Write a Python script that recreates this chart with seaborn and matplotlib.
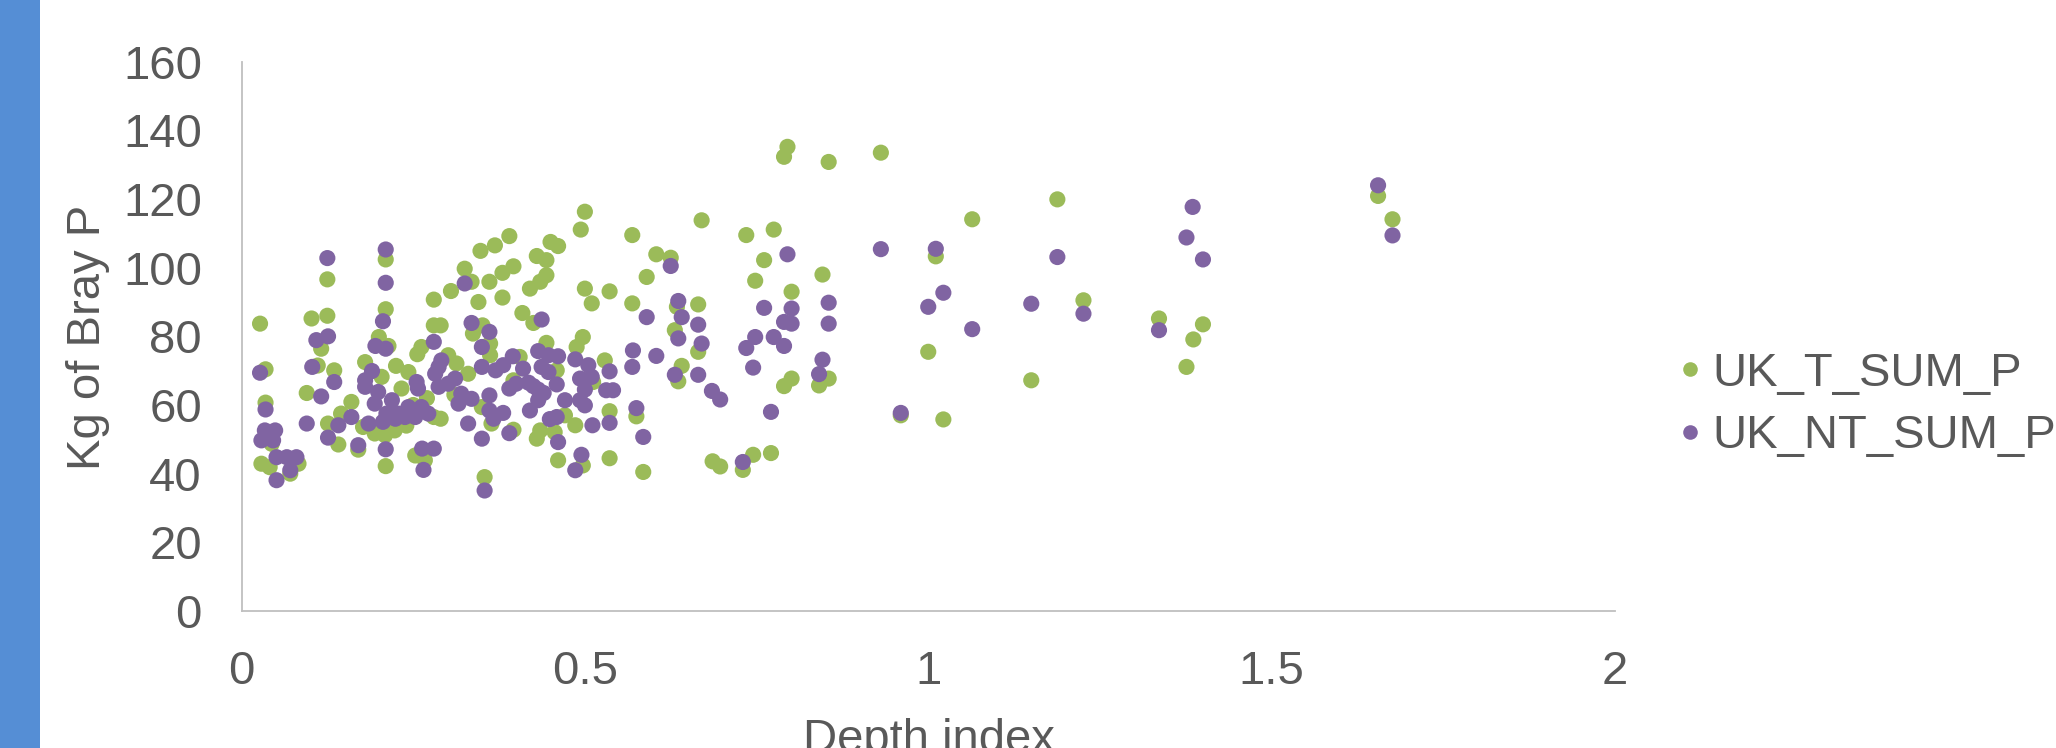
import matplotlib
matplotlib.use("Agg")
import matplotlib.pyplot as plt
from matplotlib.patches import Rectangle
from matplotlib.lines import Line2D
import seaborn as sns
import pandas as pd

# ---------------- data ----------------
t_x = [0.027, 0.035, 0.035, 0.044, 0.029, 0.041, 0.083, 0.071, 0.102, 0.125, 0.125, 0.116,
       0.111, 0.135, 0.095, 0.126, 0.141, 0.160, 0.145, 0.170, 0.210, 0.210, 0.200, 0.214,
       0.180, 0.225, 0.204, 0.194, 0.209, 0.223, 0.210, 0.233, 0.243, 0.256, 0.280, 0.280,
       0.290, 0.305, 0.325, 0.335, 0.348, 0.345, 0.337, 0.262, 0.301, 0.313, 0.330, 0.280,
       0.253, 0.267, 0.354, 0.177, 0.350, 0.220, 0.250, 0.270, 0.310, 0.240, 0.290,
       0.500, 0.494, 0.390, 0.569, 0.670, 0.369, 0.450, 0.461, 0.430, 0.444, 0.604, 0.625,
       0.396, 0.380, 0.444, 0.435, 0.361, 0.420, 0.590, 0.500, 0.510, 0.536, 0.380, 0.569,
       0.665, 0.409, 0.425, 0.634, 0.631, 0.351, 0.362, 0.362, 0.444, 0.497, 0.488, 0.529,
       0.665, 0.641, 0.636, 0.405, 0.459, 0.512, 0.396, 0.536, 0.575, 0.471, 0.364, 0.396,
       0.486, 0.430, 0.435, 0.456, 0.461, 0.497, 0.536, 0.585, 0.686, 0.697,
       0.795, 0.790, 0.855, 0.931, 1.064, 0.735, 0.775, 0.761, 0.748, 0.846, 0.801, 1.011,
       1.000, 0.801, 0.790, 0.855, 0.841, 0.745, 0.771, 0.730, 1.022, 0.960,
       1.188, 1.150, 1.226, 1.336, 1.400, 1.386, 1.376, 1.655, 1.676]
t_y = [83.7, 70.4, 60.7, 48.7, 42.9, 41.9, 42.9, 40.0, 85.2, 86.0, 96.6, 76.4,
       71.5, 70.1, 63.5, 54.6, 48.5, 60.9, 57.5, 47.0, 102.4, 87.9, 79.8, 77.2,
       72.5, 71.4, 68.2, 51.7, 51.2, 52.6, 42.2, 64.8, 69.6, 74.8, 90.7, 83.2,
       83.2, 93.2, 99.7, 95.9, 104.9, 90.0, 80.8, 76.9, 74.5, 72.1, 69.1, 56.5,
       45.3, 43.9, 39.0, 53.6, 59.4, 58.0, 60.0, 62.0, 63.0, 54.0, 56.0,
       116.3, 111.1, 109.2, 109.5, 113.8, 106.5, 107.5, 106.3, 103.4, 102.2, 103.9, 102.9,
       100.4, 98.5, 97.8, 95.9, 95.9, 93.9, 97.3, 93.9, 89.6, 93.1, 91.3, 89.6,
       89.3, 86.8, 83.9, 88.6, 81.8, 83.2, 77.9, 74.5, 78.1, 79.8, 76.9, 73.0,
       75.5, 71.4, 66.9, 74.0, 70.1, 66.7, 67.2, 58.2, 56.7, 57.0, 54.6, 52.8,
       54.1, 50.2, 52.6, 52.1, 43.9, 42.4, 44.5, 40.5, 43.6, 42.1,
       135.2, 132.3, 130.8, 133.5, 114.1, 109.5, 111.1, 102.2, 96.2, 98.0, 93.0, 103.3,
       75.5, 67.7, 65.5, 67.7, 65.7, 45.5, 46.0, 41.1, 55.8, 57.0,
       119.9, 67.2, 90.5, 85.2, 83.5, 79.1, 71.1, 120.9, 114.1]

nt_x = [0.027, 0.035, 0.034, 0.049, 0.029, 0.046, 0.051, 0.066, 0.080, 0.071, 0.051, 0.125,
        0.109, 0.126, 0.103, 0.135, 0.116, 0.095, 0.126, 0.141, 0.160, 0.170, 0.210, 0.210,
        0.206, 0.195, 0.210, 0.190, 0.180, 0.180, 0.199, 0.219, 0.194, 0.211, 0.228, 0.185,
        0.206, 0.224, 0.210, 0.255, 0.257, 0.291, 0.287, 0.282, 0.311, 0.287, 0.301, 0.320,
        0.316, 0.243, 0.262, 0.253, 0.272, 0.238, 0.330, 0.335, 0.263, 0.280, 0.265, 0.350,
        0.350, 0.350, 0.354, 0.280, 0.335, 0.325,
        0.625, 0.636, 0.641, 0.590, 0.665, 0.670, 0.636, 0.437, 0.361, 0.570, 0.569, 0.604,
        0.395, 0.432, 0.447, 0.461, 0.486, 0.505, 0.370, 0.381, 0.410, 0.437, 0.447, 0.536,
        0.631, 0.665, 0.493, 0.510, 0.459, 0.425, 0.440, 0.432, 0.418, 0.400, 0.390, 0.500,
        0.531, 0.541, 0.493, 0.500, 0.471, 0.432, 0.420, 0.361, 0.361, 0.367, 0.381, 0.575,
        0.685, 0.697, 0.449, 0.459, 0.511, 0.536, 0.390, 0.461, 0.585, 0.495, 0.486,
        0.795, 0.931, 1.011, 1.022, 1.000, 1.064, 0.761, 0.801, 0.855, 0.855, 0.790, 0.801,
        0.748, 0.735, 0.775, 0.790, 0.745, 0.846, 0.841, 0.771, 0.960, 0.730,
        1.188, 1.150, 1.226, 1.336, 1.385, 1.376, 1.400, 1.655, 1.676]
nt_y = [69.4, 58.7, 52.6, 52.6, 49.7, 49.7, 44.8, 44.8, 44.8, 41.0, 38.1, 102.8,
        78.9, 80.0, 71.1, 66.7, 62.5, 54.6, 50.5, 54.1, 56.5, 48.3, 105.3, 95.6,
        84.4, 77.2, 76.4, 69.9, 67.2, 65.3, 63.8, 61.4, 60.4, 57.5, 57.5, 54.6,
        55.1, 56.0, 47.1, 66.7, 64.8, 73.0, 71.1, 69.1, 67.7, 65.3, 66.2, 63.3,
        60.4, 59.4, 59.4, 56.5, 57.5, 56.5, 54.6, 61.8, 47.3, 47.3, 41.1, 71.1,
        76.9, 50.2, 35.1, 78.4, 83.9, 95.4,
        100.5, 90.3, 85.6, 85.6, 83.4, 77.9, 79.4, 84.9, 81.3, 75.9, 71.1, 74.3,
        74.2, 75.7, 74.5, 74.2, 73.3, 71.6, 70.1, 71.6, 70.6, 71.1, 69.6, 69.8,
        68.8, 68.8, 67.7, 68.2, 66.0, 65.5, 63.5, 64.5, 66.5, 66.2, 64.8, 64.5,
        64.3, 64.3, 61.4, 59.9, 61.4, 61.4, 58.4, 62.8, 58.4, 56.0, 57.7, 59.1,
        64.1, 61.6, 55.9, 56.5, 54.1, 54.8, 51.8, 49.2, 50.7, 45.5, 41.0,
        103.9, 105.4, 105.5, 92.7, 88.6, 82.1, 88.3, 88.1, 89.8, 83.7, 84.2, 83.7,
        79.8, 76.6, 79.8, 77.2, 70.9, 73.2, 69.0, 58.0, 57.7, 43.4,
        103.1, 89.5, 86.6, 81.8, 117.7, 108.8, 102.4, 124.0, 109.4]

series_names = ["UK_T_SUM_P", "UK_NT_SUM_P"]
x_ticks = [0, 0.5, 1, 1.5, 2]
x_tick_labels = ["0", "0.5", "1", "1.5", "2"]
y_ticks = [0, 20, 40, 60, 80, 100, 120, 140, 160]

# ---------------- styling ----------------
GREEN = "#9BBB59"
PURPLE = "#8064A2"
TEXT = "#595959"
AXIS = "#BFBFBF"
FS = 34

sns.set_theme(style="white")
plt.rcParams["font.family"] = ["Liberation Sans", "DejaVu Sans"]

df = pd.concat([
    pd.DataFrame({"x": t_x, "y": t_y, "series": series_names[0]}),
    pd.DataFrame({"x": nt_x, "y": nt_y, "series": series_names[1]}),
], ignore_index=True)

W, H = 2056, 748
fig = plt.figure(figsize=(W / 100, H / 100), dpi=100)
fig.patch.set_facecolor("white")
fig.patches.append(Rectangle((0, 0), 40 / W, 1, transform=fig.transFigure,
                             facecolor="#558ED5", edgecolor="none", zorder=0))

ax_l, ax_r, ax_t, ax_b = 241.5, 1615.0, 61.7, 611.0
ax = fig.add_axes([ax_l / W, 1 - ax_b / H, (ax_r - ax_l) / W, (ax_b - ax_t) / H])

sns.scatterplot(data=df, x="x", y="y", hue="series",
                palette={series_names[0]: GREEN, series_names[1]: PURPLE},
                s=135, linewidth=0, alpha=1, legend=False, ax=ax)

ax.set_xlim(0, 2)
ax.set_ylim(0, 160)
ax.set_xticks(x_ticks)
ax.set_xticklabels(x_tick_labels)
ax.set_yticks(y_ticks)
ax.set_yticklabels([str(v) for v in y_ticks])
ax.tick_params(axis="both", length=0, labelsize=FS, colors=TEXT)
ax.tick_params(axis="x", pad=28)
ax.tick_params(axis="y", pad=28.5)
ax.set_xlabel("")
ax.set_ylabel("")
for side in ["top", "right"]:
    ax.spines[side].set_visible(False)
for side in ["left", "bottom"]:
    ax.spines[side].set_color(AXIS)
    ax.spines[side].set_linewidth(1.3)
ax.grid(False)
ax.set_facecolor("white")

fig.text(88 / W, 1 - 337 / H, "Kg of Bray P", rotation=90, ha="center", va="center",
         fontsize=FS, color=TEXT)
fig.text(929 / W, 1 - 752 / H, "Depth index", ha="center", va="baseline",
         fontsize=FS, color=TEXT)

handles = [Line2D([], [], linestyle="none", marker="o", markersize=10.5,
                  markerfacecolor=c, markeredgewidth=0) for c in (GREEN, PURPLE)]
fig.legend(handles, series_names, loc="center left",
           bbox_to_anchor=(1678 / W, 1 - 405 / H), frameon=False,
           fontsize=FS, labelcolor=TEXT, handlelength=0.5, handletextpad=0.22,
           borderpad=0, borderaxespad=0, labelspacing=0.4)

fig.savefig("out.png", dpi=100)
